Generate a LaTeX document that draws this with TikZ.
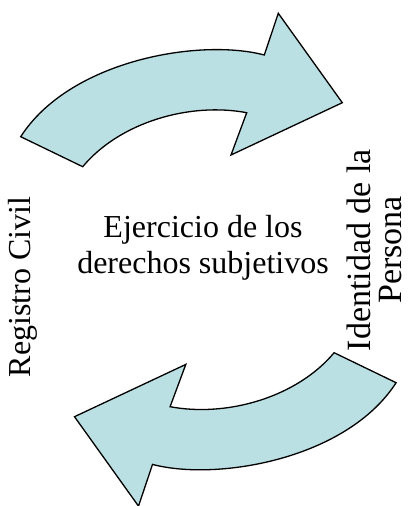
\documentclass[tikz,border=0pt]{standalone}
\usepackage{fontspec}
\setmainfont{Liberation Serif}
\definecolor{flechaazul}{RGB}{187,224,227}
\tikzset{flecha/.style={draw=black, line width=1.3pt, fill=flechaazul, line join=miter}}

\begin{document}
\begin{tikzpicture}[x=1pt,y=-1pt]
\useasboundingbox (0,0) rectangle (410,506);
\coordinate (centro) at (208.4,259.7);
% las dos flechas curvas (la segunda es la primera girada)
\foreach \ang in {0,180}{
  \draw[flecha, rotate around={\ang:(centro)}] (20.7,136.7) -- (82.7,166.7)
     .. controls (120,122) and (190,102) .. (246.7,112.7)
     -- (231,155) -- (342.3,102.7) -- (278.3,13.3) -- (264.3,55)
     .. controls (200,38) and (70,60) .. cycle;
}
\begin{scope}
	\tikzstyle{every node}=[font=\fontsize{32}{36}\selectfont, align=center]
	\node[rotate=90] (registro) at (23,287) {Registro Civil};
	\node[rotate=90, font=\fontsize{34}{31}\selectfont] (identidad) at (374,250) {Identidad de la\\Persona};
	\node (ejercicio) at (203,248) {Ejercicio de los\\derechos subjetivos};
\end{scope}
\end{tikzpicture}
\end{document}
